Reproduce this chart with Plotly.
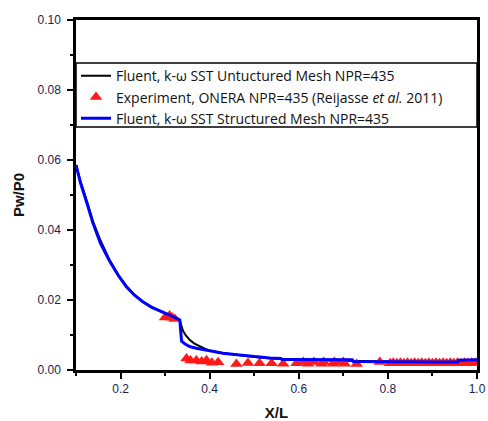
import plotly.graph_objects as go

# Unstructured mesh (black)
x_unstr = [0.100, 0.110, 0.125, 0.138, 0.155, 0.175, 0.195, 0.213, 0.232, 0.250, 0.270, 0.288, 0.305, 0.325, 0.333,
           0.337, 0.340, 0.347, 0.355, 0.365, 0.378, 0.390, 0.400, 0.420, 0.450, 0.480, 0.512, 0.540, 0.560, 0.600,
           0.650, 0.700, 0.720, 0.760, 0.800, 0.850, 0.900, 0.957, 0.960, 1.000]
y_unstr = [0.0586, 0.0540, 0.0480, 0.0425, 0.0370, 0.0315, 0.0272, 0.0240, 0.0214, 0.0195, 0.0180, 0.0170, 0.0160, 0.0148, 0.0143,
           0.0125, 0.0112, 0.0098, 0.0086, 0.0076, 0.0067, 0.0060, 0.0056, 0.0050, 0.0045, 0.0040, 0.0036, 0.0033, 0.0031, 0.0029,
           0.0027, 0.0026, 0.0025, 0.0024, 0.0023, 0.0022, 0.0022, 0.0022, 0.0027, 0.0028]

# Structured mesh (blue)
x_str = [0.100, 0.110, 0.125, 0.138, 0.155, 0.175, 0.195, 0.213, 0.232, 0.250, 0.270, 0.288, 0.305, 0.325, 0.333,
         0.335, 0.337, 0.345, 0.355, 0.370, 0.385, 0.400, 0.430, 0.467, 0.512, 0.535, 0.560, 0.562, 0.600, 0.650,
         0.700, 0.720, 0.722, 0.780, 0.850, 0.900, 0.957, 0.959, 1.000]
y_str = [0.0586, 0.0535, 0.0475, 0.0420, 0.0362, 0.0312, 0.0270, 0.0238, 0.0213, 0.0195, 0.0179, 0.0170, 0.0160, 0.0148, 0.0143,
         0.0110, 0.0082, 0.0074, 0.0067, 0.0062, 0.0058, 0.0054, 0.0048, 0.0043, 0.0036, 0.0034, 0.0033, 0.0030, 0.0030, 0.0029,
         0.0029, 0.0029, 0.0024, 0.0023, 0.0023, 0.0023, 0.0023, 0.0028, 0.0029]

# Experiment, ONERA (red triangles)
x_exp = [0.300, 0.310, 0.316, 0.322,
         0.348, 0.357, 0.370, 0.382, 0.393, 0.405, 0.419,
         0.460, 0.486, 0.512, 0.539, 0.565, 0.595, 0.621, 0.651, 0.677, 0.703, 0.730,
         0.610, 0.634, 0.656, 0.680, 0.700,
         0.782, 0.805, 0.812, 0.820, 0.828, 0.836, 0.844, 0.852, 0.860, 0.868, 0.876, 0.884, 0.892,
         0.900, 0.908, 0.916, 0.924, 0.932, 0.940, 0.948, 0.956, 0.964, 0.972, 0.980, 0.988, 0.996]
y_exp = [0.0150, 0.0156, 0.0149, 0.0146,
         0.0033, 0.0027, 0.0027, 0.0024, 0.0028, 0.0021, 0.0022,
         0.0017, 0.0020, 0.0019, 0.0019, 0.0018, 0.0019, 0.0018, 0.0018, 0.0018, 0.0018, 0.0017,
         0.0023, 0.0023, 0.0023, 0.0023, 0.0023,
         0.0023, 0.0019, 0.0021, 0.0019, 0.0021, 0.0019, 0.0021, 0.0019, 0.0021, 0.0019, 0.0021, 0.0019, 0.0021,
         0.0019, 0.0021, 0.0019, 0.0021, 0.0019, 0.0021, 0.0019, 0.0021, 0.0019, 0.0021, 0.0019, 0.0021, 0.0020]

x_ticks = [0.2, 0.4, 0.6, 0.8, 1.0]
x_tick_labels = ["0.2", "0.4", "0.6", "0.8", "1.0"]
y_ticks = [0.00, 0.02, 0.04, 0.06, 0.08, 0.10]
y_tick_labels = ["0.00", "0.02", "0.04", "0.06", "0.08", "0.10"]

names = ["Fluent, k-ω SST Untuctured Mesh NPR=435",
         "Experiment, ONERA NPR=435 (Reijasse <i>et al.</i> 2011)",
         "Fluent, k-ω SST Structured Mesh NPR=435"]

fig = go.Figure()
fig.add_trace(go.Scatter(x=x_unstr, y=y_unstr, mode="lines", name=names[0],
                         line=dict(color="black", width=2)))
fig.add_trace(go.Scatter(x=x_exp, y=y_exp, mode="markers", name=names[1],
                         marker=dict(symbol="triangle-up", color="#ff1a1a", size=11, line=dict(width=0))))
fig.add_trace(go.Scatter(x=x_str, y=y_str, mode="lines", name=names[2],
                         line=dict(color="#0000ff", width=3)))

font_fam = "Liberation Sans, Arial, sans-serif"
tick_col = "#1c2350"

fig.update_layout(
    width=488, height=421,
    margin=dict(l=76, r=11, t=20, b=51, autoexpand=False),
    paper_bgcolor="white", plot_bgcolor="white",
    showlegend=True,
    legend=dict(x=0.0, y=0.885, xanchor="left", yanchor="top",
                bgcolor="rgba(0,0,0,0)", borderwidth=0,
                font=dict(family="Open Sans, Liberation Sans, sans-serif", size=14, color="#111111"),
                tracegroupgap=0, itemwidth=30),
    font=dict(family=font_fam),
)
fig.update_xaxes(range=[0.1, 1.0], showgrid=False, zeroline=False, automargin=False,
                 showline=True, linecolor="black", linewidth=2.5, mirror=True,
                 tickmode="array", tickvals=x_ticks, ticktext=x_tick_labels,
                 ticks="outside", ticklen=6, tickwidth=2, tickcolor="black",
                 minor=dict(dtick=0.1, tick0=0.1, ticks="outside", ticklen=3, tickwidth=2, tickcolor="black"),
                 tickfont=dict(family=font_fam, size=12, color=tick_col),
                 title=dict(text="<b>X/L</b>", font=dict(family=font_fam, size=15, color="#111111"), standoff=14))
fig.update_yaxes(range=[0.0, 0.1], showgrid=False, zeroline=False, automargin=False,
                 showline=True, linecolor="black", linewidth=2.5, mirror=True,
                 tickmode="array", tickvals=y_ticks, ticktext=y_tick_labels,
                 ticks="outside", ticklen=6, tickwidth=2, tickcolor="black",
                 ticklabelstandoff=4,
                 minor=dict(dtick=0.01, tick0=0.0, ticks="outside", ticklen=3, tickwidth=2, tickcolor="black"),
                 tickfont=dict(family=font_fam, size=12, color=tick_col),
                 title=dict(text="<b>Pw/P0</b>", font=dict(family=font_fam, size=15, color="#111111"), standoff=10))

# legend frame spanning the plot width
fig.add_shape(type="rect", xref="paper", yref="y", x0=0, x1=1, y0=0.0694, y1=0.0877,
              line=dict(color="black", width=1.5), fillcolor="rgba(0,0,0,0)", layer="above")

fig.write_html("out.html")
